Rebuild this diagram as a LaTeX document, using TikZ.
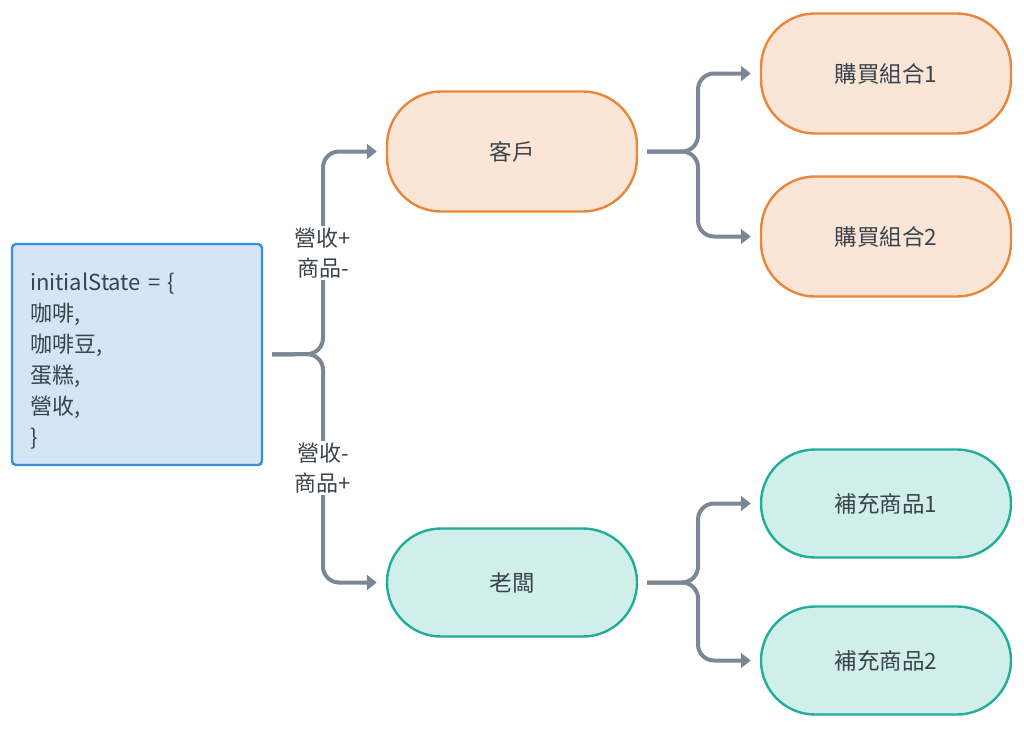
\documentclass[tikz,border=0pt]{standalone}
\usepackage{fontspec}
\setmainfont{Noto Sans CJK TC}
\usetikzlibrary{arrows.meta}

\definecolor{stateFill}{HTML}{D3E5F6}
\definecolor{stateLine}{HTML}{3A8EDC}
\definecolor{orangeFill}{HTML}{FBE5D6}
\definecolor{orangeLine}{HTML}{E9863A}
\definecolor{greenFill}{HTML}{D0EEEA}
\definecolor{greenLine}{HTML}{20AE98}
\definecolor{connGray}{HTML}{7B8794}
\definecolor{textGray}{HTML}{39434C}

\tikzset{
  pill/.style={rounded corners=54pt, line width=2.4pt, minimum width=250pt,
    text=textGray, font=\fontsize{22.5}{27}\selectfont, inner sep=0pt},
  custpill/.style={pill, draw=orangeLine, fill=orangeFill, minimum height=120pt},
  bosspill/.style={pill, draw=greenLine, fill=greenFill, minimum height=108pt},
  conn/.style={draw=connGray, line width=4pt, rounded corners=16pt,
    shorten <=9pt, shorten >=9pt, -{Triangle[length=10pt,width=15pt]}},
  flowlabel/.style={fill=white, text=textGray, align=center, inner sep=2pt,
    font=\fontsize{22}{30}\selectfont}
}

\begin{document}
\begin{tikzpicture}[x=1pt,y=-1pt]
  \useasboundingbox (0,0) rectangle (1024,728);

  % Initial state
  \node[draw=stateLine, fill=stateFill, line width=2.4pt, rounded corners=4pt,
    minimum width=250pt, minimum height=221pt, text width=214pt, align=left,
    inner sep=0pt, text=textGray, font=\fontsize{22}{31}\selectfont]
    (state) at (137,354.5)
    {\rule{0pt}{30pt}initialState = \{\\咖啡,\\咖啡豆,\\蛋糕,\\營收,\\\}};

  % Customer branch
  \node[custpill] (customer) at (512,151.5) {客戶};
  \node[custpill] (buy1) at (886,73.5) {購買組合1};
  \node[custpill] (buy2) at (886,236.5) {購買組合2};

  % Boss branch
  \node[bosspill] (boss) at (512,582.5) {老闆};
  \node[bosspill] (refill1) at (886,503.5) {補充商品1};
  \node[bosspill] (refill2) at (886,660.5) {補充商品2};

  % Split points
  \coordinate (split1) at (323,354);
  \coordinate (split2) at (698,151.5);
  \coordinate (split3) at (698,582.5);

  % Connectors
  \draw[conn] (state.east) -- (split1) |- (customer.west);
  \draw[conn] (state.east) -- (split1) |- (boss.west);
  \draw[conn] (customer.east) -- (split2) |- (buy1.west);
  \draw[conn] (customer.east) -- (split2) |- (buy2.west);
  \draw[conn] (boss.east) -- (split3) |- (refill1.west);
  \draw[conn] (boss.east) -- (split3) |- (refill2.west);

  % Labels
  \node[flowlabel] (gain) at (323,253) {營收+\\商品-};
  \node[flowlabel] (loss) at (323,468) {營收-\\商品+};
\end{tikzpicture}
\end{document}
